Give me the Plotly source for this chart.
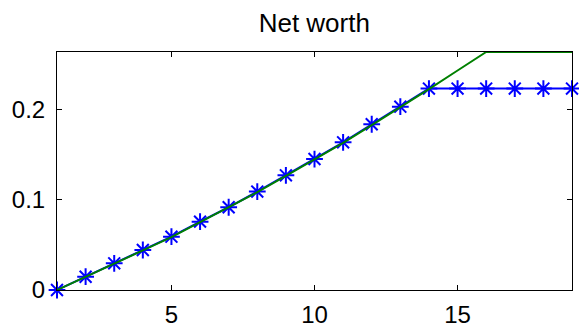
import plotly.graph_objects as go

periods = list(range(1, 20))
blue_vals = [0.0, 0.0147, 0.0295, 0.0443, 0.059, 0.0757, 0.0916, 0.109, 0.127,
             0.145, 0.1635, 0.1835, 0.203, 0.223, 0.223, 0.223, 0.223, 0.223, 0.223]
green_vals = [0.0, 0.0143, 0.029, 0.0438, 0.0585, 0.075, 0.091, 0.1083, 0.1263,
              0.1443, 0.1628, 0.1825, 0.2022, 0.2225, 0.243, 0.2635, 0.2635, 0.2635, 0.2635]
x_ticks = [5, 10, 15]
y_ticks = [0, 0.1, 0.2]
y_tick_text = ["0", "0.1", "0.2"]
title_text = "Net worth"

fig = go.Figure()
fig.add_trace(go.Scatter(
    x=periods, y=blue_vals, mode="lines+markers",
    line=dict(color="rgb(0,0,255)", width=2),
    marker=dict(symbol="asterisk-open", size=14, line=dict(color="rgb(0,0,255)", width=2)),
    cliponaxis=False, showlegend=False))
fig.add_trace(go.Scatter(
    x=periods, y=green_vals, mode="lines",
    line=dict(color="rgb(0,128,0)", width=2),
    showlegend=False))

fig.update_layout(
    width=579, height=328,
    margin=dict(l=57, r=7, t=52, b=38),
    paper_bgcolor="white", plot_bgcolor="white",
    font=dict(family="Liberation Sans, Arial, sans-serif", color="black", size=24),
    title=dict(text=title_text, x=0.5428, xanchor="center", y=0.93, yanchor="middle",
               font=dict(size=26)),
)
fig.update_xaxes(
    range=[1, 19], tickvals=x_ticks, ticks="inside", ticklen=5, tickcolor="black",
    showline=True, linecolor="black", linewidth=1, mirror="ticks",
    showgrid=False, zeroline=False, ticklabelstandoff=3, automargin=False)
fig.update_yaxes(
    range=[0, 0.2635], tickvals=y_ticks, ticktext=y_tick_text, ticks="inside", ticklen=5,
    tickcolor="black", showline=True, linecolor="black", linewidth=1, mirror="ticks",
    showgrid=False, zeroline=False, ticklabelstandoff=6, automargin=False)

fig.write_html("out.html", config={"displayModeBar": False},
               post_script="document.body.style.margin='0';")
